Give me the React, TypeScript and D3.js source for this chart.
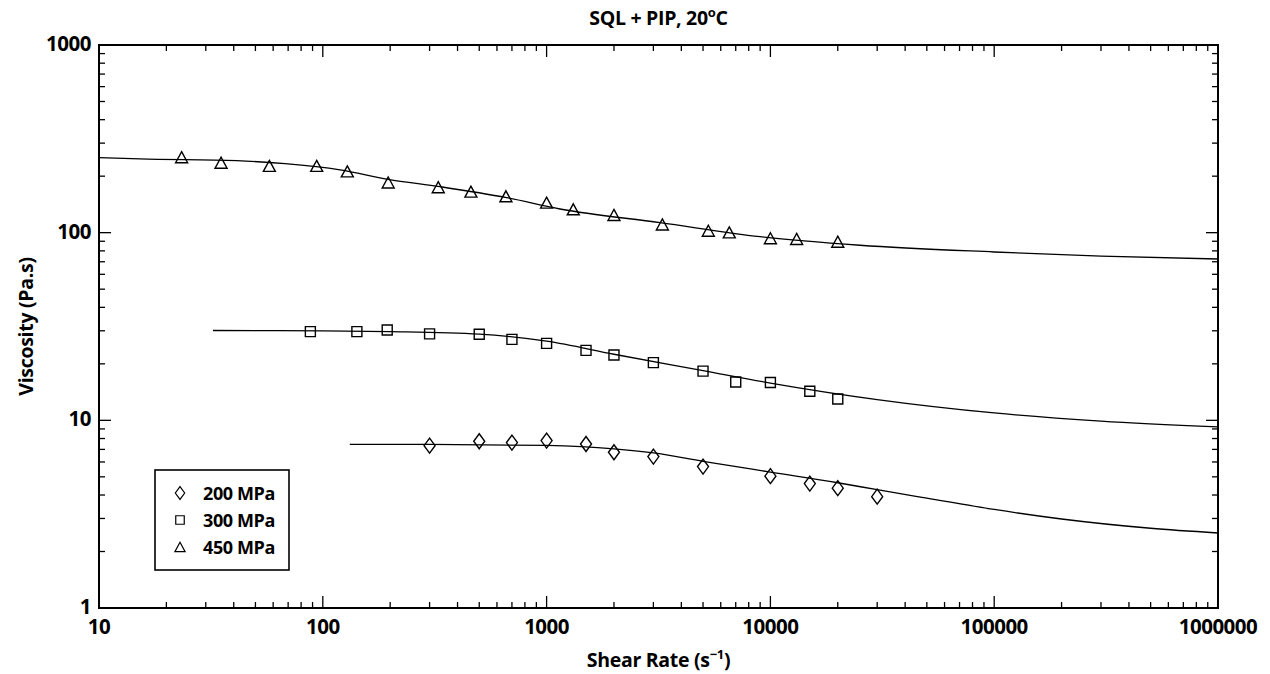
import React from "react";
import * as d3 from "d3";

// ---------- DATA ----------
const seriesNames = ["200 MPa", "300 MPa", "450 MPa"];

const rate200 = [300, 500, 700, 1000, 1500, 2000, 3000, 5000, 10000, 15000, 20000, 30000];
const visc200 = [7.33, 7.74, 7.61, 7.8, 7.48, 6.76, 6.41, 5.67, 5.04, 4.6, 4.35, 3.92];

const rate300 = [88, 142, 194, 300, 500, 700, 1000, 1500, 2000, 3000, 5000, 7000, 10000, 15000, 20000];
const visc300 = [29.7, 29.7, 30.3, 28.9, 28.75, 27.0, 25.7, 23.6, 22.3, 20.3, 18.3, 16.0, 15.9, 14.3, 13.0];

const rate450 = [23.4, 35.1, 57.7, 93.9, 128.7, 196, 328, 459, 658, 1000, 1316, 2000, 3290, 5280, 6550, 10000, 13100, 20000];
const visc450 = [252.5, 236, 227, 227, 212, 185, 174.7, 165.4, 156.2, 144.5, 133.2, 124.3, 110.6, 102.4, 100.3, 93.4, 92.6, 89.5];

// fitted model curves
const fitRate200 = [132, 300, 1000, 2000, 3000, 5000, 10000, 20000, 30000, 50000, 100000, 200000, 500000, 1000000];
const fitVisc200 = [7.45, 7.45, 7.35, 7.05, 6.7, 6.05, 5.3, 4.65, 4.27, 3.85, 3.35, 2.98, 2.66, 2.51];

const fitRate300 = [32.3, 100, 200, 500, 1000, 2000, 5000, 10000, 30000, 100000, 300000, 1000000];
const fitVisc300 = [30.1, 30.0, 29.7, 28.8, 26.4, 22.5, 18.4, 15.8, 12.9, 10.95, 9.9, 9.22];

const fitRate450 = [10, 15.25, 41.2, 67.8, 119.4, 195.6, 334, 663, 1148, 3212, 8984, 25150, 100000, 300000, 1000000];
const fitVisc450 = [251, 247, 241.8, 233, 216, 192.5, 175.8, 153.6, 133.7, 113.1, 95.2, 85.7, 78.9, 75, 72.4];

const xTickLabels = ["10", "100", "1000", "10000", "100000", "1000000"];
const yTickLabels = ["1", "10", "100", "1000"];

const titleMain = "SQL + PIP, 20";
const titleSup = "o";
const titleEnd = "C";
const xLabelMain = "Shear Rate (s";
const xLabelSup = "\u22121";
const xLabelEnd = ")";
const yLabel = "Viscosity (Pa.s)";

// ---------- CHART ----------
const W = 1270;
const H = 674;
const L = 99, R = 1218, T = 45, B = 608;
const FONT = "'Open Sans', sans-serif";

type Marker = "diamond" | "square" | "triangle";

function markerPath(kind: Marker, cx: number, cy: number, s = 1): string {
  if (kind === "diamond") {
    const w = 5.5 * s, h = 7.5 * s;
    return `M${cx},${cy - h}L${cx + w},${cy}L${cx},${cy + h}L${cx - w},${cy}Z`;
  }
  if (kind === "square") {
    const a = 5 * s;
    return `M${cx - a},${cy - a}H${cx + a}V${cy + a}H${cx - a}Z`;
  }
  const w = 6 * s, h = 5.5 * s;
  return `M${cx},${cy - h}L${cx + w},${cy + h}L${cx - w},${cy + h}Z`;
}

export default function App() {
  const x = d3.scaleLog().domain([10, 1e6]).range([L, R]);
  const y = d3.scaleLog().domain([1, 1000]).range([B, T]);

  const xMajors = xTickLabels.map(Number);
  const yMajors = yTickLabels.map(Number);
  const xMinors: number[] = [];
  for (let d = 10; d < 1e6; d *= 10) for (let k = 2; k <= 9; k++) xMinors.push(d * k);
  const yMinors: number[] = [];
  for (let d = 1; d < 1000; d *= 10) for (let k = 2; k <= 9; k++) yMinors.push(d * k);

  const line = d3
    .line<[number, number]>()
    .x((d) => x(d[0]))
    .y((d) => y(d[1]))
    .curve(d3.curveMonotoneX);

  const fits = [
    d3.zip(fitRate200, fitVisc200) as [number, number][],
    d3.zip(fitRate300, fitVisc300) as [number, number][],
    d3.zip(fitRate450, fitVisc450) as [number, number][],
  ];
  const pts: { kind: Marker; data: [number, number][] }[] = [
    { kind: "diamond", data: d3.zip(rate200, visc200) as [number, number][] },
    { kind: "square", data: d3.zip(rate300, visc300) as [number, number][] },
    { kind: "triangle", data: d3.zip(rate450, visc450) as [number, number][] },
  ];

  const majorLen = 12, minorLen = 6;

  return (
    <svg
      width={W}
      height={H}
      style={{ position: "absolute", left: 0, top: 0, background: "#fff" }}
      fontFamily={FONT}
    >
      <rect x={0} y={0} width={W} height={H} fill="#fff" />
      {/* fits */}
      {fits.map((f, i) => (
        <path key={"f" + i} d={line(f) || ""} fill="none" stroke="#000" strokeWidth={1.3} />
      ))}
      {/* markers */}
      {pts.map((s, i) =>
        s.data.map((d, j) => (
          <path
            key={`m${i}-${j}`}
            d={markerPath(s.kind, x(d[0]), y(d[1]))}
            fill="none"
            stroke="#000"
            strokeWidth={1.4}
          />
        ))
      )}
      {/* ticks */}
      <g stroke="#000" strokeWidth={1.3}>
        {xMinors.map((v) => (
          <g key={"xm" + v}>
            <line x1={x(v)} x2={x(v)} y1={B} y2={B - minorLen} />
            <line x1={x(v)} x2={x(v)} y1={T} y2={T + minorLen} />
          </g>
        ))}
        {xMajors.map((v) => (
          <g key={"xM" + v}>
            <line x1={x(v)} x2={x(v)} y1={B} y2={B - majorLen} />
            <line x1={x(v)} x2={x(v)} y1={T} y2={T + majorLen} />
          </g>
        ))}
        {yMinors.map((v) => (
          <g key={"ym" + v}>
            <line x1={L} x2={L + minorLen} y1={y(v)} y2={y(v)} />
            <line x1={R} x2={R - minorLen} y1={y(v)} y2={y(v)} />
          </g>
        ))}
        {yMajors.map((v) => (
          <g key={"yM" + v}>
            <line x1={L} x2={L + majorLen} y1={y(v)} y2={y(v)} />
            <line x1={R} x2={R - majorLen} y1={y(v)} y2={y(v)} />
          </g>
        ))}
      </g>
      {/* frame */}
      <rect x={L} y={T} width={R - L} height={B - T} fill="none" stroke="#000" strokeWidth={2} />
      {/* tick labels */}
      <g fontSize={20.5} fontWeight={700} fill="#000" letterSpacing={-0.5}>
        {xMajors.map((v, i) => (
          <text key={"xl" + v} x={x(v)} y={B + 26} textAnchor="middle">
            {xTickLabels[i]}
          </text>
        ))}
        {yMajors.map((v, i) => (
          <text key={"yl" + v} x={L - 8} y={y(v) + 6} textAnchor="end">
            {yTickLabels[i]}
          </text>
        ))}
      </g>
      {/* title */}
      <text x={(L + R) / 2} y={25} textAnchor="middle" fontSize={19.5} fontWeight={700} letterSpacing={-0.3}>
        {titleMain}
        <tspan fontSize={13} dy={-8}>{titleSup}</tspan>
        <tspan dy={8}>{titleEnd}</tspan>
      </text>
      {/* x label */}
      <text x={(L + R) / 2} y={667} textAnchor="middle" fontSize={19.5} fontWeight={700} letterSpacing={-0.3}>
        {xLabelMain}
        <tspan fontSize={13} dy={-8}>{xLabelSup}</tspan>
        <tspan dy={8}>{xLabelEnd}</tspan>
      </text>
      {/* y label */}
      <text
        transform={`translate(33,${(T + B) / 2}) rotate(-90)`}
        textAnchor="middle"
        fontSize={19.5}
        fontWeight={700}
        letterSpacing={-0.3}
      >
        {yLabel}
      </text>
      {/* legend */}
      <rect x={155} y={470} width={134} height={100} fill="#fff" stroke="#000" strokeWidth={1.6} />
      {pts.map((s, i) => (
        <g key={"lg" + i}>
          <path
            d={markerPath(s.kind, 180, 493 + i * 27, 0.85)}
            fill="none"
            stroke="#000"
            strokeWidth={1.2}
          />
          <text x={203} y={493 + i * 27 + 6.5} fontSize={18} fontWeight={700} letterSpacing={-0.4}>
            {seriesNames[i]}
          </text>
        </g>
      ))}
    </svg>
  );
}
